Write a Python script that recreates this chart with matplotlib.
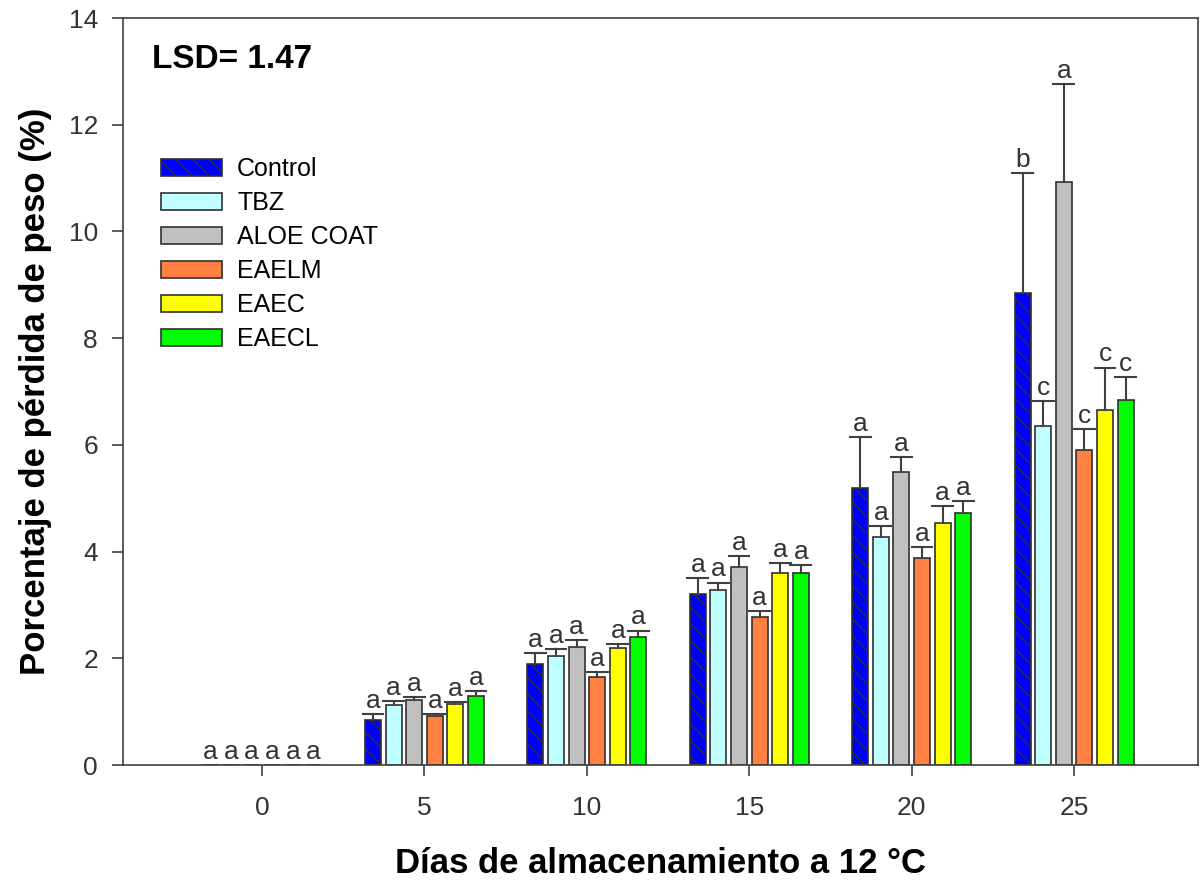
import numpy as np
import matplotlib.pyplot as plt

plt.rcParams['font.family'] = ['Liberation Sans', 'DejaVu Sans']
plt.rcParams['hatch.linewidth'] = 1.0

days = [0, 5, 10, 15, 20, 25]
treatments = ['Control', 'TBZ', 'ALOE COAT', 'EAELM', 'EAEC', 'EAECL']

means = {
    'Control':   [0, 0.85, 1.90, 3.20, 5.20, 8.85],
    'TBZ':       [0, 1.13, 2.05, 3.28, 4.27, 6.35],
    'ALOE COAT': [0, 1.22, 2.22, 3.72, 5.50, 10.92],
    'EAELM':     [0, 0.92, 1.65, 2.78, 3.88, 5.90],
    'EAEC':      [0, 1.15, 2.20, 3.60, 4.53, 6.65],
    'EAECL':     [0, 1.30, 2.40, 3.60, 4.72, 6.85],
}
errors = {
    'Control':   [0, 0.10, 0.20, 0.30, 0.95, 2.25],
    'TBZ':       [0, 0.07, 0.13, 0.14, 0.21, 0.48],
    'ALOE COAT': [0, 0.06, 0.13, 0.20, 0.28, 1.84],
    'EAELM':     [0, 0.03, 0.10, 0.10, 0.20, 0.40],
    'EAEC':      [0, 0.03, 0.07, 0.18, 0.32, 0.80],
    'EAECL':     [0, 0.08, 0.12, 0.15, 0.23, 0.43],
}
letters = {
    'Control':   ['a', 'a', 'a', 'a', 'a', 'b'],
    'TBZ':       ['a', 'a', 'a', 'a', 'a', 'c'],
    'ALOE COAT': ['a', 'a', 'a', 'a', 'a', 'a'],
    'EAELM':     ['a', 'a', 'a', 'a', 'a', 'c'],
    'EAEC':      ['a', 'a', 'a', 'a', 'a', 'c'],
    'EAECL':     ['a', 'a', 'a', 'a', 'a', 'c'],
}
colors = ['#0000FF', '#C0FFFF', '#C0C0C0', '#FF8040', '#FFFF00', '#00FF00']

fig = plt.figure(figsize=(12, 8.88), dpi=100)
ax = fig.add_axes([0.1025, 0.1385, 0.8955, 0.8412])

step = 0.634
width = 0.49
x = np.array(days, dtype=float)
for i, t in enumerate(treatments):
    pos = x + (i - 2.5) * step
    m = np.array(means[t])
    e = np.array(errors[t])
    ax.bar(pos, m, width=width, color=colors[i], edgecolor='#303030',
           linewidth=1.2, hatch='\\\\' if t == 'Control' else None,
           label=t, zorder=2)
    for p, mv, ev, lt, d in zip(pos, m, e, letters[t], days):
        if d == 0:
            ax.text(p, 0.02, lt, ha='center', va='bottom', fontsize=19, color='#333333')
            continue
        ax.plot([p, p], [mv, mv + ev], color='#404040', lw=1.5, zorder=3)
        ax.plot([p - 0.32, p + 0.32], [mv + ev, mv + ev], color='#404040', lw=1.5, zorder=3)
        ax.text(p, mv + ev + 0.02, lt, ha='center', va='bottom', fontsize=19, color='#333333')

ax.set_xlim(-4.28, 28.8)
ax.set_ylim(0, 14)
ax.set_xticks(days)
ax.set_yticks(range(0, 15, 2))
ax.tick_params(axis='both', direction='out', length=8, width=1.2, labelsize=19,
               colors='#404040', labelcolor='#333333', pad=10)
ax.tick_params(axis='x', pad=14)
for s in ax.spines.values():
    s.set_color('#404040')
    s.set_linewidth(1.2)

ax.set_xlabel('Días de almacenamiento a 12 °C', fontsize=25, fontweight='bold', labelpad=20)
ax.set_ylabel('Porcentaje de pérdida de peso (%)', fontsize=25, fontweight='bold', labelpad=12)

ax.text(0.027, 0.965, 'LSD= 1.47', transform=ax.transAxes, fontsize=24,
        fontweight='bold', va='top', ha='left')

ax.legend(loc='upper left', bbox_to_anchor=(0.026, 0.827), frameon=False, fontsize=18,
          handlelength=2.45, handleheight=0.7, labelspacing=0.4, handletextpad=0.6,
          borderaxespad=0)

fig.savefig('out.png', dpi=100)
